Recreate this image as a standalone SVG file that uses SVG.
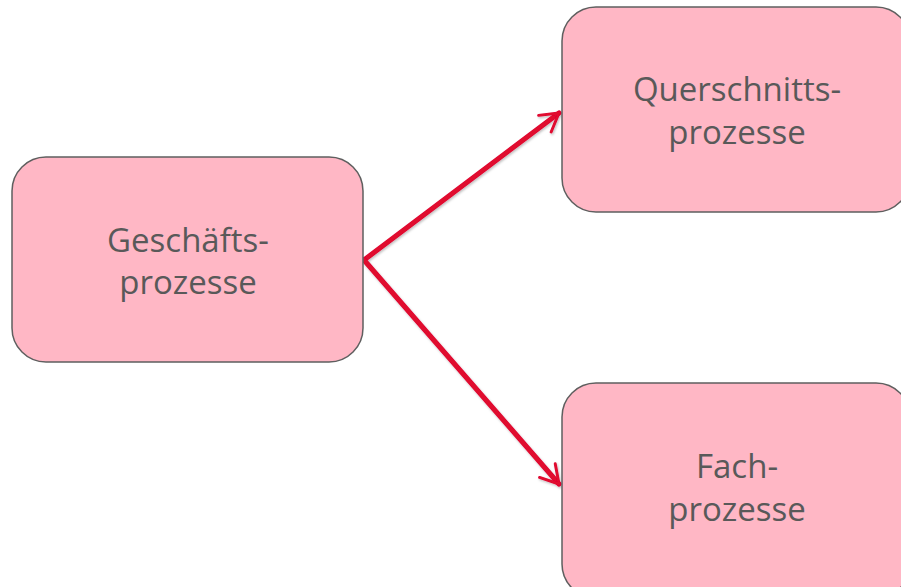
<svg xmlns="http://www.w3.org/2000/svg" width="901" height="587" viewBox="0 0 901 587">
<defs>
<style>
.node{fill:#ffb7c5;stroke:#5f5f5f;stroke-width:1.5}
.lbl{font-family:"Open Sans","Liberation Sans",sans-serif;font-size:33px;fill:#595959;text-anchor:middle}
.edge{fill:none;stroke:#e0072f;stroke-width:5;stroke-linecap:round}
</style>
<marker id="arr" viewBox="0 0 12 12" refX="10.5" refY="6" markerWidth="5" markerHeight="5" orient="auto" markerUnits="strokeWidth">
<path d="M2,1 L10.5,6 L2,11" fill="none" stroke="#e0072f" stroke-width="1.4" stroke-linecap="round" stroke-linejoin="round"/>
</marker>
<filter id="sh" x="-10%" y="-10%" width="120%" height="120%">
<feDropShadow dx="1" dy="1.5" stdDeviation="1" flood-color="#000" flood-opacity="0.25"/>
</filter>
</defs>
<g id="connectors" filter="url(#sh)">
<line class="edge" x1="364" y1="260" x2="559" y2="113" marker-end="url(#arr)"/>
<line class="edge" x1="364" y1="260" x2="559" y2="484" marker-end="url(#arr)"/>
</g>
<g id="node-geschaeft">
<rect class="node" x="12" y="157" width="351" height="205" rx="34"/>
<text class="lbl" x="188" y="252">Geschäfts-</text>
<text class="lbl" x="188" y="294">prozesse</text>
</g>
<g id="node-querschnitt">
<rect class="node" x="562" y="7" width="348" height="205" rx="34"/>
<text class="lbl" x="737" y="101">Querschnitts-</text>
<text class="lbl" x="737" y="144">prozesse</text>
</g>
<g id="node-fach">
<rect class="node" x="562" y="383" width="348" height="215" rx="34"/>
<text class="lbl" x="737" y="478">Fach-</text>
<text class="lbl" x="737" y="521">prozesse</text>
</g>
</svg>
